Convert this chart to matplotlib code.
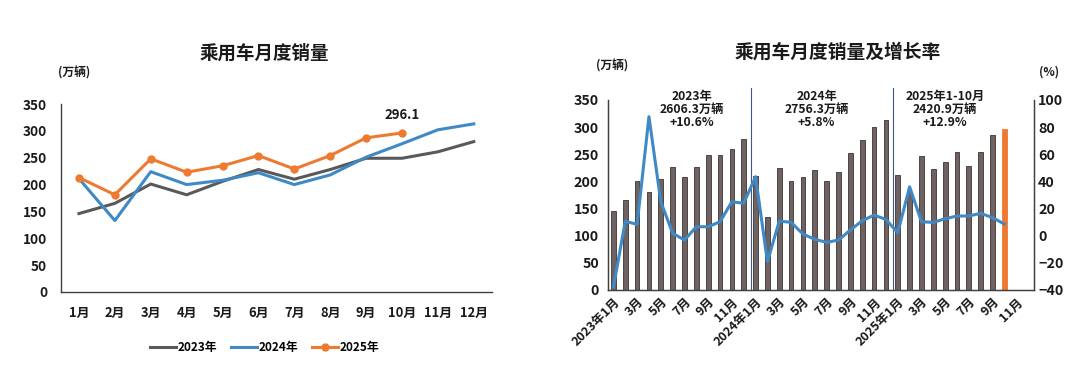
import matplotlib
matplotlib.use("Agg")
import matplotlib.pyplot as plt
from matplotlib.lines import Line2D

plt.rcParams['font.family'] = ['Noto Sans CJK SC', 'DejaVu Sans']
plt.rcParams['font.weight'] = 'bold'

months = ['1月', '2月', '3月', '4月', '5月', '6月', '7月', '8月', '9月', '10月', '11月', '12月']
sales_2023 = [146, 165, 201, 181, 206, 228, 210, 228, 249, 249, 261, 280]
sales_2024 = [211, 133, 224, 200, 208, 222, 200, 218, 251, 276, 302, 313]
sales_2025 = [213, 181, 248, 223, 235, 254, 229, 254, 287, 296.1]

# right chart: monthly wholesale bars (2023-01 .. 2025-10) and YoY growth (%)
bar_values = [146, 165, 201, 181, 204, 227, 209, 227, 249, 249, 260, 279,
              210, 134, 224, 200, 208, 221, 200, 217, 252, 276, 300, 313,
              212, 181, 247, 222, 236, 254, 229, 254, 286, 296.1]
growth = [-37.9, 10.6, 8.4, 87.7, 25.0, 1.8, -3.2, 6.6, 6.6, 10.3, 25.0, 23.9,
          43.5, -19.2, 10.8, 9.8, 1.2, -2.7, -4.9, -3.2, 4.2, 11.0, 15.2, 12.0,
          2.2, 36.0, 10.3, 9.8, 12.5, 14.5, 14.5, 16.5, 13.3, 8.6]
n_slots = 36
xtick_labels = ['2023年1月', '3月', '5月', '7月', '9月', '11月',
                '2024年1月', '3月', '5月', '7月', '9月', '11月',
                '2025年1月', '3月', '5月', '7月', '9月', '11月']
year_notes = ['2023年\n2606.3万辆\n+10.6%', '2024年\n2756.3万辆\n+5.8%',
              '2025年1-10月\n2420.9万辆\n+12.9%']

C_GRAY = '#595959'
C_BLUE = '#3E89C6'
C_ORANGE = '#EE7A32'
C_BAR = '#6e6262'
C_TXT = '#1a1a1a'

fig = plt.figure(figsize=(10.8, 3.77), dpi=100)

# ---------------- left chart ----------------
ax1 = fig.add_axes([0.0565, 0.2255, 0.3988, 0.4986])
x = list(range(12))
ax1.plot(x, sales_2023, color=C_GRAY, lw=2.2)
ax1.plot(x, sales_2024, color=C_BLUE, lw=2.2)
ax1.plot(range(len(sales_2025)), sales_2025, color=C_ORANGE, lw=2.2,
         marker='o', ms=5)
ax1.set_xlim(-0.5, 11.5)
ax1.set_ylim(0, 350)
ax1.set_yticks(range(0, 351, 50))
ax1.set_xticks(x)
ax1.set_xticklabels(months)
for s in ['top', 'right']:
    ax1.spines[s].set_visible(False)
for s in ['left', 'bottom']:
    ax1.spines[s].set_color('#404040')
    ax1.spines[s].set_linewidth(1.0)
ax1.tick_params(length=0, colors=C_TXT)
ax1.tick_params(axis='y', pad=10, labelsize=9.8)
ax1.tick_params(axis='x', pad=10, labelsize=9.3)
ax1.annotate(f'{sales_2025[-1]:.1f}', (len(sales_2025) - 1, sales_2025[-1]),
             xytext=(0, 8), textcoords='offset points', ha='center',
             va='bottom', fontsize=9.5, fontweight='bold', color=C_TXT)
fig.text(0.245, 0.86, '乘用车月度销量', ha='center', va='center',
         fontsize=13.3, fontweight='bold', color=C_TXT)
fig.text(0.069, 0.806, '(万辆)', ha='center', va='center', fontsize=8.5,
         fontweight='bold', color=C_TXT)

handles = [Line2D([], [], color=C_GRAY, lw=2.2),
           Line2D([], [], color=C_BLUE, lw=2.2),
           Line2D([], [], color=C_ORANGE, lw=2.2, marker='o', ms=5)]
fig.legend(handles, ['2023年', '2024年', '2025年'], loc='center',
           bbox_to_anchor=(0.245, 0.078), ncol=3, frameon=False,
           handlelength=2.2, handletextpad=0.1,
           columnspacing=1.2, prop={'weight': 'bold', 'size': 8.5})

# ---------------- right chart ----------------
ax2 = fig.add_axes([0.5625, 0.2308, 0.3949, 0.504])
bx = list(range(len(bar_values)))
colors = [C_BAR] * (len(bar_values) - 1) + [C_ORANGE]
edges = ['#3d3333'] * (len(bar_values) - 1) + [C_ORANGE]
ax2.bar(bx, bar_values, width=0.4, color=colors, edgecolor=edges, lw=0.6)
ax2.set_xlim(-0.5, n_slots - 0.5)
ax2.set_ylim(0, 350)
ax2.set_yticks(range(0, 351, 50))
ax2.set_xticks(range(0, n_slots, 2))
ax2.set_xticklabels(xtick_labels, rotation=45, ha='right',
                    rotation_mode='anchor')
ax2.spines['top'].set_visible(False)
for s in ['left', 'bottom', 'right']:
    ax2.spines[s].set_color('#404040')
    ax2.spines[s].set_linewidth(1.0)
ax2.tick_params(length=0, colors=C_TXT)
ax2.tick_params(axis='y', pad=6, labelsize=10.3)
ax2.tick_params(axis='x', pad=4, labelsize=9)

ax3 = ax2.twinx()
ax3.plot(bx, growth, color=C_BLUE, lw=2.2)
ax3.set_ylim(-40, 100)
ax3.set_yticks(range(-40, 101, 20))
ax3.spines['top'].set_visible(False)
for s in ['left', 'bottom', 'right']:
    ax3.spines[s].set_color('#404040')
ax3.tick_params(length=0, labelsize=10.3, colors=C_TXT, pad=3)

for xv in (11.65, 23.6):
    ax2.axvline(xv, ymin=0, ymax=1.065, color='#3a5a8a', lw=0.8,
                clip_on=False)

note_x = [6.6, 17.15, 28.0]
for nx, txt in zip(note_x, year_notes):
    ax2.text(nx, 369, txt, ha='center', va='top', fontsize=8.8,
             fontweight='bold', color=C_TXT, linespacing=1.0, clip_on=False)

fig.text(0.776, 0.862, '乘用车月度销量及增长率', ha='center', va='center',
         fontsize=13.5, fontweight='bold', color=C_TXT)
fig.text(0.567, 0.824, '(万辆)', ha='center', va='center', fontsize=8.5,
         fontweight='bold', color=C_TXT)
fig.text(0.971, 0.81, '(%)', ha='center', va='center', fontsize=8.5,
         fontweight='bold', color=C_TXT)

fig.savefig('out.png', dpi=100, facecolor='white')
